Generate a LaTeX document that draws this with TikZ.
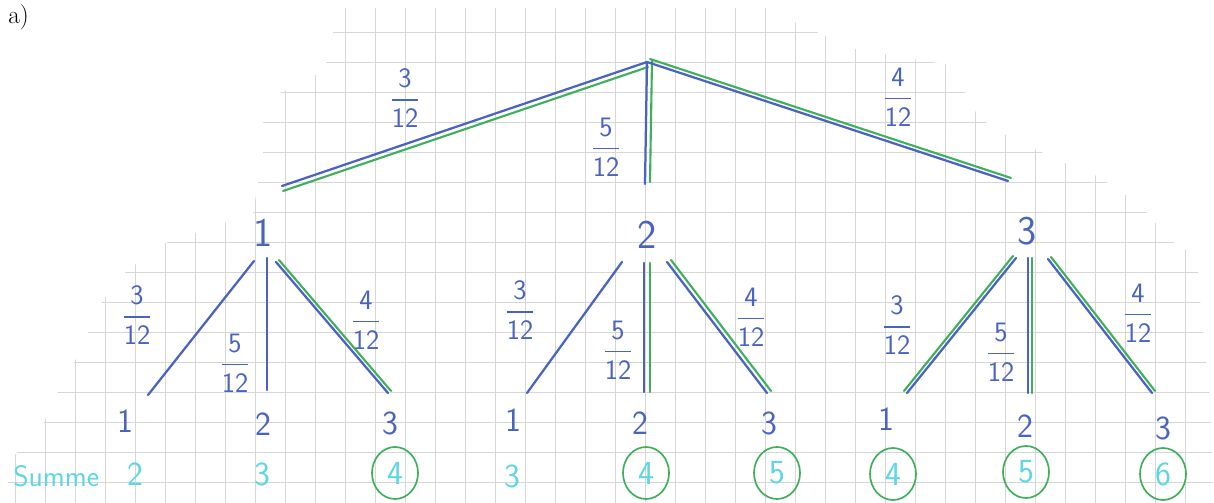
\documentclass[tikz,border=0pt]{standalone}
\usepackage{amsmath}
\usetikzlibrary{shapes.geometric}
\definecolor{penblue}{HTML}{4A63BF}
\definecolor{pengreen}{HTML}{3FAF5C}
\definecolor{pencyan}{HTML}{5ED6E4}
\definecolor{papergrid}{HTML}{D6D6D6}
\begin{document}
\begin{tikzpicture}[x=0.025cm,y=-0.025cm,line cap=round,line join=round,
  bl/.style={draw=penblue,line width=1.6pt},
  gr/.style={draw=pengreen,line width=1.5pt},
  gridline/.style={draw=papergrid,line width=0.45pt},
  lvl/.style={text=penblue,font=\sffamily\fontsize{29}{29}\selectfont,inner sep=0pt},
  leaf/.style={text=penblue,font=\sffamily\fontsize{24}{24}\selectfont,inner sep=0pt},
  tot/.style={text=pencyan,font=\sffamily\fontsize{24}{24}\selectfont,inner sep=0pt},
  hit/.style={tot,draw=pengreen,line width=1.2pt,ellipse,minimum width=1.15cm,minimum height=1.3cm},
  frac/.style={text=penblue,font=\sffamily\fontsize{20}{20}\selectfont,inner sep=0pt}]
\path[use as bounding box] (0,0) rectangle (1214,503);
% Squared paper, cut along a staircase edge.
\begin{scope}
\clip (343,8) -- (333,32) -- (327,62) -- (313,78) -- (280,93) -- (263,123) -- (263,153)
  -- (253,213) -- (160,245) -- (122,275) -- (100,305) -- (87,335) -- (72,367) -- (55,397)
  -- (42,427) -- (13,457) -- (7,487) -- (7,503) -- (1214,503) -- (1210,400) -- (1200,300)
  -- (1197,257) -- (1170,240) -- (1140,205) -- (1099,177) -- (1069,165) -- (1009,137)
  -- (979,118) -- (950,65) -- (858,50) -- (800,25) -- (767,8) -- cycle;
\foreach \gx in {15,45,...,1215} \draw[gridline] (\gx,0) -- (\gx,503);
\foreach \gy in {2,32,...,502} \draw[gridline] (0,\gy) -- (1214,\gy);
\end{scope}
\node[anchor=base west,font=\fontsize{18}{18}\selectfont,inner sep=0pt] (part) at (8,24) {a)};
% First draw: root and its three branches.
\coordinate (t-root) at (647,62);
\coordinate (t-a) at (282,186);
\coordinate (t-b) at (645,184);
\coordinate (t-c) at (1008,181);
\draw[bl] (t-root) -- (t-a);
\draw[gr,transform canvas={shift={(1,5)}}] (t-root) -- (t-a);
\draw[bl] (t-root) -- (t-b);
\draw[gr,transform canvas={shift={(5,-2)}}] (t-root) -- (t-b);
\draw[bl] (t-root) -- (t-c);
\draw[gr,transform canvas={shift={(3,-3)}}] (t-root) -- (t-c);
\node[frac] (f-ta) at (405,98) {$\displaystyle\frac{\text{3}}{\text{12}}$};
\node[frac] (f-tb) at (606,147) {$\displaystyle\frac{\text{5}}{\text{12}}$};
\node[frac] (f-tc) at (898,97) {$\displaystyle\frac{\text{4}}{\text{12}}$};
% Second draw after ball 1.
\node[lvl] (n1) at (263,233) {1};
\coordinate (s1-la) at (254,261);
\coordinate (s1-lb) at (148,395);
\coordinate (s1-ma) at (267,258);
\coordinate (s1-mb) at (267,390);
\coordinate (s1-ra) at (276,262);
\coordinate (s1-rb) at (388,393);
\draw[bl] (s1-la) -- (s1-lb);
\draw[bl] (s1-ma) -- (s1-mb);
\draw[bl] (s1-ra) -- (s1-rb);
\draw[gr,transform canvas={shift={(3,-2)}}] (s1-ra) -- (s1-rb);
\node[frac] (f-1a) at (137,315) {$\displaystyle\frac{\text{3}}{\text{12}}$};
\node[frac] (f-1b) at (235,363) {$\displaystyle\frac{\text{5}}{\text{12}}$};
\node[frac] (f-1c) at (366,320) {$\displaystyle\frac{\text{4}}{\text{12}}$};
% Second draw after ball 2.
\node[lvl] (n2) at (647,235) {2};
\coordinate (s2-la) at (622,262);
\coordinate (s2-lb) at (527,393);
\coordinate (s2-ma) at (644,263);
\coordinate (s2-mb) at (644,392);
\coordinate (s2-ra) at (667,262);
\coordinate (s2-rb) at (767,393);
\draw[bl] (s2-la) -- (s2-lb);
\draw[bl] (s2-ma) -- (s2-mb);
\draw[gr,transform canvas={shift={(6,0)}}] (s2-ma) -- (s2-mb);
\draw[bl] (s2-ra) -- (s2-rb);
\draw[gr,transform canvas={shift={(4,-2)}}] (s2-ra) -- (s2-rb);
\node[frac] (f-2a) at (520,310) {$\displaystyle\frac{\text{3}}{\text{12}}$};
\node[frac] (f-2b) at (618,350) {$\displaystyle\frac{\text{5}}{\text{12}}$};
\node[frac] (f-2c) at (751,317) {$\displaystyle\frac{\text{4}}{\text{12}}$};
% Second draw after ball 3.
\node[lvl] (n3) at (1027,231) {3};
\coordinate (s3-la) at (1016,258);
\coordinate (s3-lb) at (907,393);
\coordinate (s3-ma) at (1028,258);
\coordinate (s3-mb) at (1028,393);
\coordinate (s3-ra) at (1048,259);
\coordinate (s3-rb) at (1152,393);
\draw[bl] (s3-la) -- (s3-lb);
\draw[gr,transform canvas={shift={(-3,-2)}}] (s3-la) -- (s3-lb);
\draw[bl] (s3-ma) -- (s3-mb);
\draw[gr,transform canvas={shift={(4,0)}}] (s3-ma) -- (s3-mb);
\draw[bl] (s3-ra) -- (s3-rb);
\draw[gr,transform canvas={shift={(3,-2)}}] (s3-ra) -- (s3-rb);
\node[frac] (f-3a) at (897,325) {$\displaystyle\frac{\text{3}}{\text{12}}$};
\node[frac] (f-3b) at (1001,352) {$\displaystyle\frac{\text{5}}{\text{12}}$};
\node[frac] (f-3c) at (1138,313) {$\displaystyle\frac{\text{4}}{\text{12}}$};
% Leaves.
\node[leaf] (l11) at (125,421) {1};
\node[leaf] (l12) at (263,424) {2};
\node[leaf] (l13) at (390,423) {3};
\node[leaf] (l21) at (513,420) {1};
\node[leaf] (l22) at (640,423) {2};
\node[leaf] (l23) at (769,423) {3};
\node[leaf] (l31) at (886,419) {1};
\node[leaf] (l32) at (1025,426) {2};
\node[leaf] (l33) at (1163,428) {3};
% Sums, circled where at least 4.
\node[tot,anchor=base west,font=\sffamily\fontsize{21}{21}\selectfont] (summe) at (13,486) {Summe};
\node[tot] (s11) at (135,474) {2};
\node[tot] (s12) at (262,474) {3};
\node[hit] (s13) at (395,473) {4};
\node[tot] (s21) at (512,476) {3};
\node[hit] (s22) at (646,473) {4};
\node[hit] (s23) at (777,473) {5};
\node[hit] (s31) at (893,474) {4};
\node[hit] (s32) at (1026,472) {5};
\node[hit] (s33) at (1163,474) {6};
\end{tikzpicture}
\end{document}
